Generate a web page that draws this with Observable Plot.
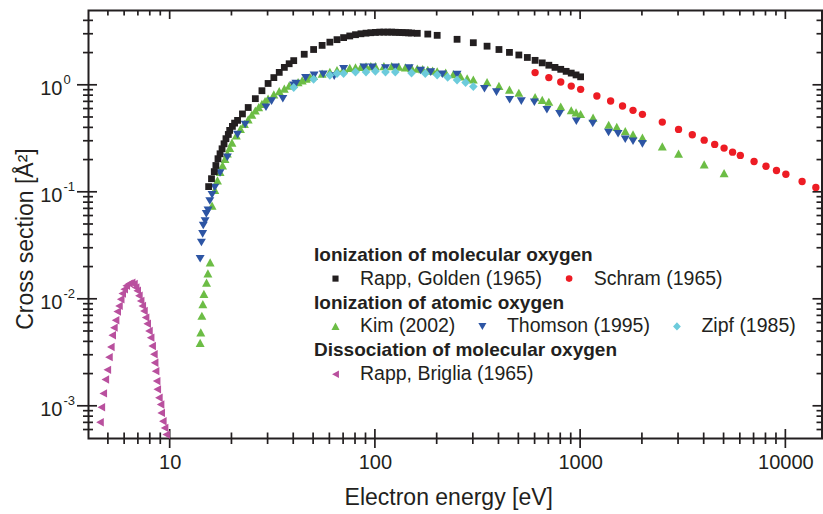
<!DOCTYPE html>
<html>
<head>
<meta charset="utf-8">
<script src="https://cdn.jsdelivr.net/npm/d3@7"></script>
<script src="https://cdn.jsdelivr.net/npm/@observablehq/plot@0.6"></script>
<style>
  html, body { margin: 0; padding: 0; background: #fff; }
  #chart { width: 823px; height: 514px; }
</style>
</head>
<body>
<div id="chart"></div>
<script>
// Electron-impact cross sections of oxygen (log–log)

// Ionization of molecular oxygen — Rapp, Golden (1965)
const rappGoldenEnergy = [15.4, 15.9, 16.4, 16.7, 17.1, 17.5, 17.9, 18.3, 18.7, 19.2, 19.5, 20.1, 20.6, 21.3, 22.5,
  24, 26, 28, 30, 32, 34, 36, 38, 40, 45, 50, 55, 60, 65, 70, 75, 80, 85, 90, 95, 100, 105, 110, 115, 120, 125,
  130, 135, 140, 145, 150, 160, 180, 200, 250, 300, 350, 400, 450, 500, 550, 600, 650, 700, 750, 800, 850, 900, 950, 1000];
const rappGoldenSigma = [0.113, 0.134, 0.156, 0.178, 0.206, 0.229, 0.255, 0.284, 0.317, 0.347, 0.379, 0.413, 0.443, 0.47, 0.54,
  0.62, 0.75, 0.89, 1.04, 1.18, 1.32, 1.47, 1.59, 1.70, 1.95, 2.16, 2.36, 2.53, 2.67, 2.79, 2.89, 2.97, 3.03, 3.07, 3.10, 3.12, 3.14, 3.14, 3.14, 3.14, 3.13,
  3.12, 3.11, 3.10, 3.09, 3.08, 3.06, 3.01, 2.93, 2.69, 2.50, 2.32, 2.16, 2.03, 1.92, 1.82, 1.71, 1.62, 1.54, 1.47, 1.41, 1.35, 1.30, 1.25, 1.20];

// Ionization of molecular oxygen — Schram (1965)
const schramEnergy = [600, 700, 800, 900, 1000, 1200, 1400, 1600, 1800, 2000, 2500, 3000, 3500, 4000, 4500, 5000,
  5500, 6000, 7000, 8000, 9000, 10000, 12000, 14000];
const schramSigma = [1.315, 1.18, 1.074, 0.983, 0.917, 0.794, 0.713, 0.640, 0.583, 0.535, 0.453, 0.387, 0.345, 0.307, 0.28, 0.259,
  0.237, 0.221, 0.194, 0.175, 0.16, 0.1475, 0.126, 0.111];

// Ionization of atomic oxygen — Kim (2002)
const kimEnergy = [14.0, 14.1, 14.27, 14.43, 14.6, 15.04, 15.27, 15.66,
  16, 16.5, 17, 17.5, 18, 18.5, 19, 19.5, 20, 21, 22, 23, 24, 25, 26, 27, 28, 29, 30, 32, 34, 36, 38, 40, 42, 44, 46, 48,
  50, 55, 60, 65, 70, 75, 80, 85, 90, 95, 100, 110, 120, 130, 140, 150, 160, 170, 180, 190, 200, 220, 240, 260, 280,
  300, 350, 400, 450, 500, 600, 650, 700, 800, 900, 950, 1000, 1150, 1370, 1500, 1650, 1800, 2000, 2500, 3000, 4000, 5000];
const kimSigma = [0.0039, 0.0049, 0.0070, 0.0090, 0.0112, 0.0143, 0.0174, 0.0221,
  0.075, 0.105, 0.129, 0.155, 0.178, 0.205, 0.23, 0.26, 0.29, 0.34, 0.39, 0.435, 0.48, 0.53, 0.58, 0.625, 0.67, 0.71, 0.75, 0.82, 0.88, 0.93, 0.99, 1.03, 1.07, 1.11, 1.15, 1.19,
  1.22, 1.28, 1.33, 1.38, 1.42, 1.45, 1.47, 1.48, 1.50, 1.51, 1.51, 1.51, 1.51, 1.49, 1.47, 1.45, 1.43, 1.41, 1.39, 1.37, 1.35, 1.31, 1.27, 1.21, 1.16,
  1.13, 1.07, 0.985, 0.91, 0.85, 0.775, 0.73, 0.70, 0.632, 0.583, 0.556, 0.538, 0.498, 0.427, 0.407, 0.372, 0.347, 0.324, 0.268, 0.229, 0.182, 0.151];

// Ionization of atomic oxygen — Thomson (1995)
const thomsonEnergy = [14.0, 14.2, 14.4, 14.5, 14.8, 15.0, 15.3, 15.6, 16.0, 16.5, 17.5, 19.0, 21.3, 23.2, 29.3, 31.2, 35.4,
  40, 41, 45.7, 50.3, 55.7, 63, 70, 88, 96.6, 112, 125, 146, 166, 186, 212, 250,
  340, 389, 451, 514, 595, 685, 790, 953, 1146, 1368, 1522, 1650, 1800, 2000];
const thomsonSigma = [0.024, 0.034, 0.041, 0.049, 0.054, 0.063, 0.068, 0.083, 0.095, 0.111, 0.152, 0.213, 0.347, 0.431, 0.626, 0.713, 0.75,
  1.0, 1.04, 1.18, 1.24, 1.27, 1.22, 1.43, 1.48, 1.48, 1.45, 1.48, 1.45, 1.38, 1.33, 1.27, 1.26,
  0.931, 0.865, 0.734, 0.713, 0.697, 0.592, 0.543, 0.463, 0.44, 0.363, 0.353, 0.314, 0.301, 0.284];

// Ionization of atomic oxygen — Zipf (1985)
const zipfEnergy = [40, 50, 60, 65, 70, 80, 90, 100, 112, 125, 150, 175, 200, 225, 250, 275, 300];
const zipfSigma = [0.952, 1.14, 1.24, 1.29, 1.29, 1.33, 1.33, 1.35, 1.33, 1.33, 1.30, 1.29, 1.25, 1.19, 1.12, 1.06, 0.972];

// Dissociation of molecular oxygen — Rapp, Briglia (1965)
const brigliaEnergy = [4.55, 4.62, 4.72, 4.83, 4.94, 5.03, 5.14, 5.22, 5.32, 5.42, 5.52, 5.63, 5.74, 5.84, 5.97, 6.11, 6.30,
  6.49, 6.66, 6.79, 6.91, 7.04, 7.18, 7.31, 7.45, 7.59, 7.73, 7.88, 8.03, 8.17, 8.33, 8.40, 8.49, 8.59, 8.65, 8.81, 8.98,
  9.04, 9.21, 9.39, 9.56];
const brigliaSigma = [7.10e-4, 9.8e-4, 1.32e-3, 1.78e-3, 2.19e-3, 2.88e-3, 3.58e-3, 4.61e-3, 5.43e-3, 6.37e-3, 7.67e-3, 8.67e-3, 1.00e-2, 1.13e-2, 1.24e-2, 1.34e-2, 1.40e-2,
  1.43e-2, 1.39e-2, 1.29e-2, 1.20e-2, 1.08e-2, 9.66e-3, 8.67e-3, 7.78e-3, 6.74e-3, 5.91e-3, 5.05e-3, 4.38e-3, 3.66e-3, 3.06e-3, 2.55e-3, 2.13e-3, 1.72e-3, 1.44e-3, 1.20e-3, 1.04e-3,
  8.67e-4, 7.25e-4, 6.28e-4, 5.44e-4];

// Axis ticks and labels
const xMajor = [10, 100, 1000, 10000];
const xMinor = [5, 6, 7, 8, 9, 20, 30, 40, 50, 60, 70, 80, 90, 200, 300, 400, 500, 600, 700, 800, 900,
  2000, 3000, 4000, 5000, 6000, 7000, 8000, 9000];
const yMajor = [1e-3, 1e-2, 1e-1, 1];
const yMinor = [6e-4, 7e-4, 8e-4, 9e-4, 2e-3, 3e-3, 4e-3, 5e-3, 6e-3, 7e-3, 8e-3, 9e-3,
  2e-2, 3e-2, 4e-2, 5e-2, 6e-2, 7e-2, 8e-2, 9e-2, 0.2, 0.3, 0.4, 0.5, 0.6, 0.7, 0.8, 0.9, 2, 3, 4];
const xTitle = "Electron energy [eV]";
const yTitle = "Cross section [Å²]";

// Legend groups
const legendGroups = [
  {header: "Ionization of molecular oxygen", items: ["rappGolden", "schram"]},
  {header: "Ionization of atomic oxygen", items: ["kim", "thomson", "zipf"]},
  {header: "Dissociation of molecular oxygen", items: ["briglia"]}
];

const ink = "#231f20";
const font = "'Liberation Sans', Arial, Helvetica, sans-serif";

// Marker shapes (size = πr², as Plot passes it)
const rad = (s) => Math.sqrt(s / Math.PI);
const poly = (c, pts) => { c.moveTo(pts[0][0], pts[0][1]); for (const p of pts.slice(1)) c.lineTo(p[0], p[1]); c.closePath(); };
const shapes = {
  square: {draw(c, s) { const h = 0.85 * rad(s); c.rect(-h, -h, 2 * h, 2 * h); }},
  circle: {draw(c, s) { const k = 0.92 * rad(s); c.moveTo(k, 0); c.arc(0, 0, k, 0, 2 * Math.PI); }},
  up: {draw(c, s) { const r = rad(s); poly(c, [[0, -1.05 * r], [1.12 * r, 1.0 * r], [-1.12 * r, 1.0 * r]]); }},
  down: {draw(c, s) { const r = rad(s); poly(c, [[-1.12 * r, -0.92 * r], [1.12 * r, -0.92 * r], [0, 0.98 * r]]); }},
  diamond: {draw(c, s) { const r = rad(s); poly(c, [[0, -1.12 * r], [1.08 * r, 0], [0, 1.12 * r], [-1.08 * r, 0]]); }},
  left: {draw(c, s) { const r = rad(s); poly(c, [[-0.95 * r, 0], [0.95 * r, -1.05 * r], [0.95 * r, 1.05 * r]]); }}
};

const toRows = (es, ss) => es.map((e, i) => ({e, s: ss[i]}));
const series = {
  kim:        {label: "Kim (2002)",           color: "#6cbd45", shape: shapes.up,      data: toRows(kimEnergy, kimSigma)},
  thomson:    {label: "Thomson (1995)",       color: "#2d55a4", shape: shapes.down,    data: toRows(thomsonEnergy, thomsonSigma)},
  zipf:       {label: "Zipf (1985)",          color: "#6ccbdb", shape: shapes.diamond, data: toRows(zipfEnergy, zipfSigma)},
  rappGolden: {label: "Rapp, Golden (1965)",  color: ink,       shape: shapes.square,  data: toRows(rappGoldenEnergy, rappGoldenSigma)},
  schram:     {label: "Schram (1965)",        color: "#ed1c24", shape: shapes.circle,  data: toRows(schramEnergy, schramSigma)},
  briglia:    {label: "Rapp, Briglia (1965)", color: "#b9509e", shape: shapes.left,    data: toRows(brigliaEnergy, brigliaSigma)}
};
const drawOrder = ["kim", "thomson", "zipf", "rappGolden", "schram", "briglia"];

const W = 823, H = 514;
const M = {top: 10, right: 1.5, bottom: 76, left: 88};

const chart = Plot.plot({
  width: W, height: H,
  marginTop: M.top, marginRight: M.right, marginBottom: M.bottom, marginLeft: M.left,
  style: {fontFamily: font, color: ink, background: "#fff", overflow: "visible"},
  x: {type: "log", domain: [4, 15000], axis: null},
  y: {type: "log", domain: [5e-4, 5], axis: null},
  marks: [
    Plot.frame({stroke: ink, strokeWidth: 2}),
    // tick labels
    Plot.text(xMajor, {x: d => d, text: d => String(d), frameAnchor: "bottom", dy: 30.5, lineAnchor: "bottom",
      fontSize: 20, fill: ink}),
    Plot.text(yMajor, {y: d => d, text: () => "10", frameAnchor: "left", textAnchor: "end", dx: -26, dy: 10,
      lineAnchor: "bottom", fontSize: 20, fill: ink}),
    Plot.text(yMajor, {y: d => d, text: d => String(Math.round(Math.log10(d))), frameAnchor: "left", textAnchor: "start",
      dx: -25, dy: -1, lineAnchor: "bottom", fontSize: 13, fill: ink}),
    // axis titles
    Plot.text([xTitle], {text: d => d, frameAnchor: "bottom", textAnchor: "middle", dx: -6.5, dy: 66,
      lineAnchor: "bottom", fontSize: 23, fill: ink}),
    Plot.text([yTitle], {text: d => d, frameAnchor: "left", textAnchor: "middle", rotate: -90, dx: -55.5, dy: 14.5,
      lineAnchor: "bottom", fontSize: 23, fill: ink}),
    // data
    ...drawOrder.map(k => Plot.dot(series[k].data, {x: "e", y: "s", r: 4, symbol: series[k].shape,
      fill: series[k].color, stroke: "none"}))
  ]
});

document.getElementById("chart").appendChild(chart);

// Tick marks placed with the plot's own scales: bottom/left ticks cross the axis,
// top/right ticks point into the frame.
const xs = chart.scale("x"), ys = chart.scale("y");
const fBottom = H - M.bottom, fTop = M.top, fLeft = M.left, fRight = W - M.right;
const tg = d3.select(chart).insert("g", ":first-child").attr("stroke", ink).attr("stroke-width", 1.7);
const seg = (x1, y1, x2, y2) => tg.append("line").attr("x1", x1).attr("y1", y1).attr("x2", x2).attr("y2", y2);
for (const [vals, inner, outer] of [[xMajor, 9, 10], [xMinor, 5.5, 6]]) {
  for (const v of vals) {
    const px = xs.apply(v);
    seg(px, fBottom - inner, px, fBottom + outer);
    seg(px, fTop, px, fTop + inner);
  }
}
for (const [vals, inner, outer] of [[yMajor, 9, 11], [yMinor, 5, 5]]) {
  for (const v of vals) {
    const py = ys.apply(v);
    seg(fLeft - outer, py, fLeft + inner, py);
    seg(fRight - inner, py, fRight, py);
  }
}

// Grouped legend inside the plot area
const lg = d3.select(chart).append("g").attr("font-family", font).attr("fill", ink).attr("text-anchor", "start");
const legendLeft = 314, symbolX = 335.5, firstBaseline = 260.7, rowStep = 23.9;
let baseline = firstBaseline;
for (const group of legendGroups) {
  lg.append("text").attr("x", legendLeft).attr("y", baseline)
    .attr("font-size", 19).attr("font-weight", "bold").text(group.header);
  baseline += rowStep;
  let cx = symbolX;
  for (const key of group.items) {
    const s = series[key];
    const p = d3.path();
    s.shape.draw(p, Math.PI * 3.6 * 3.6);
    lg.append("path").attr("transform", `translate(${cx},${baseline - 6})`).attr("d", p.toString()).attr("fill", s.color);
    const t = lg.append("text").attr("x", cx + 24.5).attr("y", baseline).attr("font-size", 19.5).text(s.label);
    cx += 24.5 + t.node().getComputedTextLength() + 27;
  }
  baseline += rowStep;
}
</script>
</body>
</html>
